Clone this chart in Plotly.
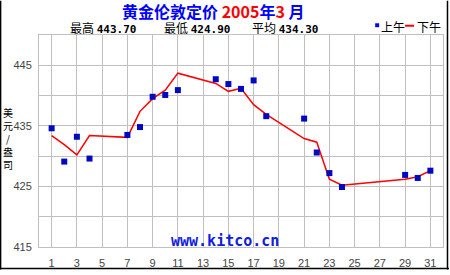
import plotly.graph_objects as go

# ---- data ----
days = [1, 2, 3, 4, 7, 8, 9, 10, 11, 14, 15, 16, 17, 18, 21, 22, 23, 24, 29, 30, 31]
am_price = [434.6, 429.1, 433.2, 429.6, 433.5, 434.8, 439.8, 440.1, 440.9, 442.7, 441.9,
            441.1, 442.5, 436.6, 436.2, 430.6, 427.2, 424.9, 426.9, 426.4, 427.6]
pm_price = [433.4, 431.9, 430.2, 433.4, 433.1, 437.4, 439.5, 440.9, 443.7, 442.0, 440.7,
            441.2, 438.5, 436.9, 432.9, 432.3, 426.2, 425.2, 426.2, 426.6, 427.6]
x_ticks = list(range(1, 32, 2))
y_ticks = [415, 420, 425, 430, 435, 440, 445, 450]
y_ticktext = ["415", "", "425", "", "435", "", "445", ""]
stats_labels = ["最高", "最低", "平均"]
stats_values = ["443.70", "424.90", "434.30"]
legend_names = ["上午", "下午"]

W, H = 450, 275
L, R, T, B = 39, 6, 35, 23
PW, PH = W - L - R, H - T - B


def px(x):
    return (x - L) / PW


def py(y):
    return (H - B - y) / PH


fig = go.Figure()
fig.add_trace(go.Scatter(x=days, y=pm_price, mode="lines", name=legend_names[1],
                         line=dict(color="#ff0000", width=1.5), showlegend=False))
fig.add_trace(go.Scatter(x=days, y=am_price, mode="markers", name=legend_names[0],
                         marker=dict(color="#0008c0", size=6, symbol="square"),
                         showlegend=False))

grid = "#c0c0c0"
fig.update_xaxes(range=[0, 32], tickvals=x_ticks, showgrid=True, gridcolor=grid,
                 gridwidth=1, showline=True, mirror=True, linecolor=grid, linewidth=1,
                 zeroline=False, ticks="", ticklabelstandoff=6,
                 tickfont=dict(family="Liberation Sans, Arial", size=11, color="#444"))
fig.update_yaxes(range=[415, 450], tickvals=y_ticks, ticktext=y_ticktext, showgrid=True,
                 gridcolor=grid, gridwidth=1, showline=True, mirror=True, linecolor=grid,
                 linewidth=1, zeroline=False, ticks="", ticklabelstandoff=4,
                 tickfont=dict(family="Liberation Sans, Arial", size=11, color="#444"))

ann = []
# title
ann.append(dict(xref="paper", yref="paper", x=px(214), y=py(10.5), xanchor="center",
                yanchor="middle", showarrow=False,
                text='<b>黄金伦敦定价 <span style="color:#ff0000">2005</span>年'
                     '<span style="color:#ff0000">3</span> 月</b>',
                font=dict(family="Noto Sans CJK SC", size=16, color="#0000ff")))
# stats line
starts = [68, 162, 251]
for sx, lab, val in zip(starts, stats_labels, stats_values):
    ann.append(dict(xref="paper", yref="paper", x=px(sx), y=py(27), xanchor="left",
                    yanchor="middle", showarrow=False,
                    text=lab + ' <span style="font-family:DejaVu Sans Mono;font-weight:bold;font-size:11px">'
                         + val + '</span>',
                    font=dict(family="Noto Sans CJK SC", size=12, color="#000")))
# legend texts
ann.append(dict(xref="paper", yref="paper", x=px(380), y=py(26), xanchor="left",
                yanchor="middle", showarrow=False, text=legend_names[0],
                font=dict(family="Noto Sans CJK SC", size=12, color="#000")))
ann.append(dict(xref="paper", yref="paper", x=px(416), y=py(26), xanchor="left",
                yanchor="middle", showarrow=False, text=legend_names[1],
                font=dict(family="Noto Sans CJK SC", size=12, color="#000")))
# y axis title
ann.append(dict(xref="paper", yref="paper", x=px(8), y=py(141), xanchor="center",
                yanchor="middle", showarrow=False,
                text="美<br>元<br>/<br>盎<br>司",
                font=dict(family="Noto Sans CJK SC", size=10, color="#000")))
# watermark
ann.append(dict(xref="paper", yref="paper", x=px(225.5), y=py(246), xanchor="center",
                yanchor="middle", showarrow=False, text="<b>www.kitco.cn</b>",
                font=dict(family="DejaVu Sans Mono", size=15, color="#1020e0")))

shapes = [
    dict(type="rect", xref="paper", yref="paper", x0=px(376), x1=px(380), y0=py(27), y1=py(23),
         fillcolor="#0000ff", line=dict(width=0)),
    dict(type="line", xref="paper", yref="paper", x0=px(406), x1=px(415), y0=py(25.5), y1=py(25.5),
         line=dict(color="#ff0000", width=2)),
    dict(type="line", xref="paper", yref="paper", x0=px(0.5), x1=px(0.5), y0=py(0), y1=py(275),
         line=dict(color="#000", width=1.5)),
    dict(type="line", xref="paper", yref="paper", x0=px(448.5), x1=px(448.5), y0=py(0), y1=py(275),
         line=dict(color="#000", width=1.5)),
    dict(type="line", xref="paper", yref="paper", x0=px(0), x1=px(450), y0=py(274), y1=py(274),
         line=dict(color="#000", width=1.5)),
]

fig.update_layout(width=W, height=H, margin=dict(l=L, r=R, t=T, b=B),
                  paper_bgcolor="#ffffff", plot_bgcolor="#ffffff",
                  annotations=ann, shapes=shapes, showlegend=False)

fig.write_html("out.html")
